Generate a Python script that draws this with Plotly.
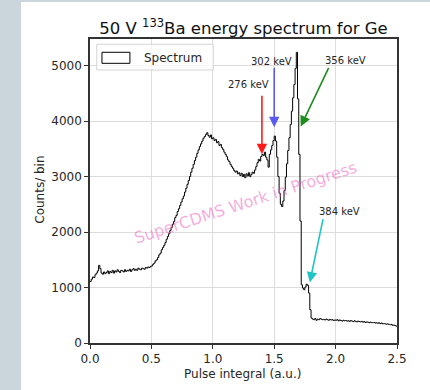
import numpy as np
import plotly.graph_objects as go

# ---- data ----
bin_width = 0.01
counts = [
    1110, 1150, 1190, 1180, 1230, 1260, 1300, 1400, 1340, 1260,
    1240, 1280, 1250, 1270, 1300, 1250, 1290, 1270, 1310, 1260,
    1300, 1280, 1320, 1290, 1270, 1310, 1300, 1280, 1320, 1290,
    1310, 1300, 1330, 1290, 1320, 1340, 1310, 1330, 1310, 1350,
    1330, 1320, 1350, 1340, 1330, 1360, 1350, 1370, 1360, 1380,
    1390, 1420, 1440, 1480, 1500, 1540, 1590, 1620, 1680, 1720,
    1760, 1810, 1870, 1920, 1970, 2030, 2080, 2140, 2190, 2260,
    2300, 2370, 2420, 2480, 2540, 2600, 2650, 2720, 2790, 2860,
    2930, 3000, 3080, 3150, 3220, 3290, 3350, 3420, 3480, 3540,
    3590, 3640, 3690, 3720, 3760, 3790, 3740, 3710, 3750, 3680,
    3700, 3650, 3670, 3610, 3630, 3560, 3580, 3520, 3490, 3440,
    3400, 3360, 3300, 3270, 3220, 3180, 3150, 3110, 3080, 3100,
    3050, 3070, 3020, 3060, 3000, 3040, 2980, 3050, 3010, 3070,
    3000, 3040, 3080, 3060, 3120, 3180, 3250, 3310, 3280, 3360,
    3400, 3380, 3440, 3350, 3300, 3170, 3400, 3480, 3560, 3650,
    3730, 3640, 3350, 3000, 2700, 2500, 2460, 2560, 2750, 2990,
    3230, 3470, 3700, 3940, 4180, 4420, 4660, 4950, 5240, 4400,
    3400, 2200, 1050, 990, 960, 1010, 1060, 1040, 900, 600,
    450, 430, 420, 440, 410, 430, 420, 440, 430, 420,
    425, 415, 430, 420, 410, 425, 415, 420, 405, 415,
    410, 420, 400, 415, 405, 395, 410, 400, 405, 395,
    400, 390, 405, 395, 385, 400, 390, 380, 395, 385,
    380, 390, 375, 385, 370, 380, 375, 365, 375, 370,
    365, 370, 360, 365, 355, 365, 350, 360, 345, 350,
    345, 340, 345, 335, 330, 335, 320, 325, 315, 305,
]
x_ticks = [0.0, 0.5, 1.0, 1.5, 2.0, 2.5]
x_tick_labels = ["0.0", "0.5", "1.0", "1.5", "2.0", "2.5"]
y_ticks = [0, 1000, 2000, 3000, 4000, 5000]
y_tick_labels = ["0", "1000", "2000", "3000", "4000", "5000"]

# annotations: label, text position, arrow tail, arrow tip, colour
peak_labels = ["276 keV", "302 keV", "356 keV", "384 keV"]
label_x = [1.287, 1.482, 2.077, 2.028]
label_y = [4666, 5081, 5099, 2374]
tail_x = [1.40, 1.50, 1.949, 1.90]
tail_y = [4485, 4991, 4986, 2260]
tip_x = [1.40, 1.50, 1.716, 1.79]
tip_y = [3403, 3890, 3903, 1092]
arrow_colors = ["#ff1a1a", "#5a5af0", "#1e8c1e", "#22c4c4"]

edges = np.arange(len(counts) + 1) * bin_width
ys = counts + [counts[-1]]

FONT = "DejaVu Sans"
TXT = "#262626"

fig = go.Figure()
fig.add_trace(go.Scatter(
    x=edges, y=ys, mode="lines", line=dict(color="black", width=1, shape="hv"),
    showlegend=False, hoverinfo="skip"))

annotations = []
for lab, lx, ly, txx, txy, tpx, tpy, c in zip(peak_labels, label_x, label_y,
                                              tail_x, tail_y, tip_x, tip_y, arrow_colors):
    annotations.append(dict(x=lx, y=ly, xref="x", yref="y", text=lab, showarrow=False,
                            font=dict(family=FONT, size=10, color=TXT)))
    annotations.append(dict(x=tpx, y=tpy, ax=txx, ay=txy, xref="x", yref="y",
                            axref="x", ayref="y", text="", showarrow=True,
                            arrowhead=2, arrowsize=1.3, arrowwidth=1.6,
                            arrowcolor=c, standoff=0, startstandoff=0))

# watermark
annotations.append(dict(x=1.27, y=2536, xref="x", yref="y",
                        text="SuperCDMS Work in Progress", showarrow=False,
                        textangle=-18,
                        font=dict(family=FONT, size=16, color="rgba(236,90,190,0.5)")))
# axis titles
annotations.append(dict(x=0.498, y=-0.102, xref="paper", yref="paper",
                        text="Pulse integral (a.u.)", showarrow=False,
                        xanchor="center", yanchor="middle",
                        font=dict(family=FONT, size=12, color=TXT)))
annotations.append(dict(x=-0.163, y=0.504, xref="paper", yref="paper",
                        text="Counts/ bin", showarrow=False, textangle=-90,
                        xanchor="center", yanchor="middle",
                        font=dict(family=FONT, size=12, color=TXT)))
# legend text
annotations.append(dict(x=0.168, y=0.9386, xref="paper", yref="paper",
                        text="Spectrum", showarrow=False,
                        xanchor="left", yanchor="middle",
                        font=dict(family=FONT, size=12, color=TXT)))

shapes = [
    # white page panel over grey backdrop
    dict(type="rect", xref="paper", yref="paper", x0=-0.2248, x1=1.12,
         y0=-0.17, y1=1.1215, fillcolor="white", line=dict(width=0), layer="below"),
    # legend box
    dict(type="rect", xref="paper", yref="paper", x0=0.0218, x1=0.4016,
         y0=0.898, y1=0.9826, fillcolor="rgba(255,255,255,0.8)",
         line=dict(color="#d5d5d5", width=1), layer="above"),
    # legend patch
    dict(type="rect", xref="paper", yref="paper", x0=0.039, x1=0.130,
         y0=0.920, y1=0.9563, fillcolor="white",
         line=dict(color="black", width=1), layer="above"),
]

axis_common = dict(showgrid=True, gridcolor="#dcdcdc", gridwidth=1,
                   showline=True, linecolor="#333333", linewidth=1.5, mirror=True,
                   ticks="outside", ticklen=4, tickcolor="#333333", tickwidth=1,
                   zeroline=False,
                   tickfont=dict(family=FONT, size=12, color=TXT))

fig.update_layout(
    width=430, height=390,
    margin=dict(l=90, r=33, t=39, b=46.5),
    paper_bgcolor="#cad6dc", plot_bgcolor="white",
    title=dict(text="50 V <sup>133</sup>Ba energy spectrum for Ge",
               x=0.5 * (90 + 397) / 430, xanchor="center",
               y=1 - 28 / 390, yanchor="middle",
               font=dict(family=FONT, size=16.5, color="#111111")),
    xaxis=dict(range=[0, 2.5], tickvals=x_ticks, ticktext=x_tick_labels, **axis_common),
    yaxis=dict(range=[0, 5480], tickvals=y_ticks, ticktext=y_tick_labels, **axis_common),
    annotations=annotations, shapes=shapes, showlegend=False,
)

fig.write_html("out.html",
               config={"displayModeBar": False},
               post_script="document.body.style.margin='0';"
                           "document.body.style.background='#cad6dc';"
                           "window.dispatchEvent(new Event('resize'));")
